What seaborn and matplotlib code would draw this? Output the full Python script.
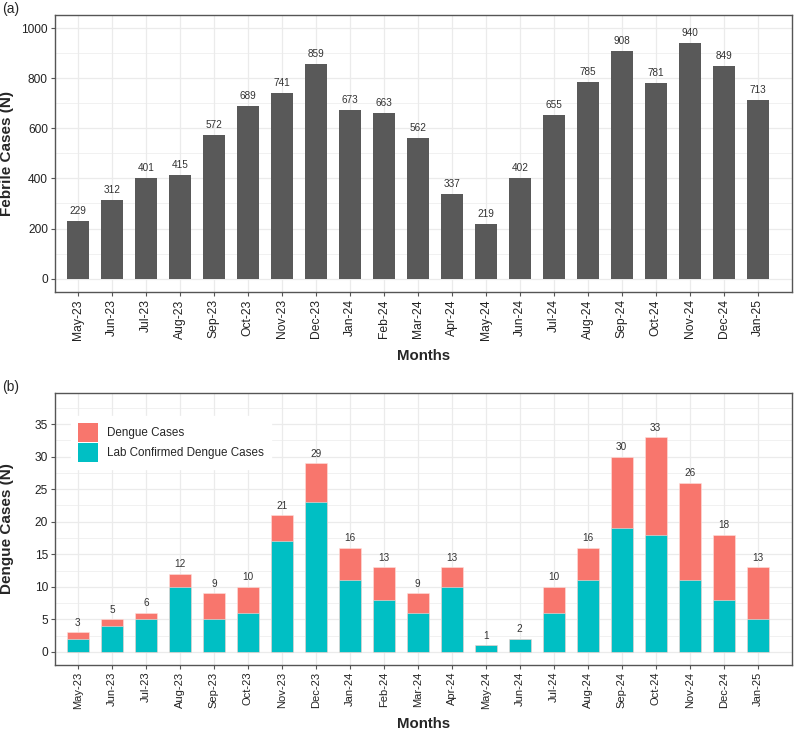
import numpy as np
import pandas as pd
import matplotlib
matplotlib.use("Agg")
import matplotlib.pyplot as plt
import seaborn as sns
from matplotlib.patches import Patch
from matplotlib.ticker import MultipleLocator

months = ["May-23", "Jun-23", "Jul-23", "Aug-23", "Sep-23", "Oct-23", "Nov-23",
          "Dec-23", "Jan-24", "Feb-24", "Mar-24", "Apr-24", "May-24", "Jun-24",
          "Jul-24", "Aug-24", "Sep-24", "Oct-24", "Nov-24", "Dec-24", "Jan-25"]
febrile = [229, 312, 401, 415, 572, 689, 741, 859, 673, 663, 562, 337, 219, 402,
           655, 785, 908, 781, 940, 849, 713]
dengue = [3, 5, 6, 12, 9, 10, 21, 29, 16, 13, 9, 13, 1, 2, 10, 16, 30, 33, 26, 18, 13]
lab_confirmed = [2, 4, 5, 10, 5, 6, 17, 23, 11, 8, 6, 10, 1, 2, 6, 11, 19, 18, 11, 8, 5]

df = pd.DataFrame({"Month": months, "Febrile": febrile,
                   "Dengue": dengue, "Lab": lab_confirmed})

sns.set_theme(style="white")
plt.rcParams["font.family"] = ["Liberation Sans", "DejaVu Sans"]

RED = "#F8766D"
TEAL = "#00BFC4"
GRID = "#EBEBEB"

fig = plt.figure(figsize=(7.94, 7.29), dpi=100)
ax1 = fig.add_axes([0.069, 0.599, 0.928, 0.380])
ax2 = fig.add_axes([0.069, 0.088, 0.928, 0.373])


def style_axes(ax, major, minor, xsize):
    ax.set_facecolor("white")
    ax.yaxis.set_major_locator(MultipleLocator(major))
    ax.yaxis.set_minor_locator(MultipleLocator(minor))
    ax.grid(True, which="major", color=GRID, linewidth=0.9, zorder=0)
    ax.grid(True, which="minor", axis="y", color=GRID, linewidth=0.5, zorder=0)
    ax.set_axisbelow(True)
    for s in ax.spines.values():
        s.set_color("#555555")
        s.set_linewidth(1.0)
    ax.tick_params(axis="both", which="major", length=3, width=0.8, pad=2,
                   color="#555555", labelsize=8.6, labelcolor="#222222",
                   bottom=True, left=True)
    ax.tick_params(axis="x", rotation=90, labelsize=xsize)
    ax.tick_params(which="minor", length=0)


# (a) febrile cases
sns.barplot(data=df, x="Month", y="Febrile", color="#595959", saturation=1,
            width=0.65, ax=ax1, zorder=2)
for p in ax1.patches:
    p.set_edgecolor("none")
for i, v in enumerate(febrile):
    ax1.text(i, v + 20, str(v), ha="center", va="bottom", fontsize=7.2, color="#333333")
style_axes(ax1, 200, 100, 8.7)
ax1.set_xlim(-0.68, 21.0)
ax1.set_ylim(-55, 1052)
ax1.set_xlabel("Months", fontsize=10.8, fontweight="bold")
ax1.set_ylabel("Febrile Cases (N)", fontsize=11, fontweight="bold")
ax1.xaxis.set_label_coords(0.5, -0.206)
ax1.yaxis.set_label_coords(-0.055, 0.5)

# (b) dengue cases, stacked
sns.barplot(data=df, x="Month", y="Dengue", color=RED, saturation=1,
            width=0.65, ax=ax2, zorder=2)
sns.barplot(data=df, x="Month", y="Lab", color=TEAL, saturation=1,
            width=0.65, ax=ax2, zorder=3)
for p in ax2.patches:
    p.set_edgecolor("#FDE0DD")
    p.set_linewidth(0.4)
for i, v in enumerate(dengue):
    ax2.text(i, v + 0.7, str(v), ha="center", va="bottom", fontsize=7.2, color="#333333")
style_axes(ax2, 5, 2.5, 8.0)
ax2.set_xlim(-0.68, 21.0)
ax2.set_ylim(-2.0, 39.8)
ax2.set_xlabel("Months", fontsize=10.8, fontweight="bold")
ax2.set_ylabel("Dengue Cases (N)", fontsize=11, fontweight="bold")
ax2.xaxis.set_label_coords(0.5, -0.19)
ax2.yaxis.set_label_coords(-0.055, 0.5)

handles = [Patch(facecolor=RED, edgecolor="none", label="Dengue Cases"),
           Patch(facecolor=TEAL, edgecolor="none", label="Lab Confirmed Dengue Cases")]
leg = ax2.legend(handles=handles, loc="upper left", bbox_to_anchor=(0.022, 0.915),
                 frameon=True, fontsize=8.4, handlelength=1.75, handleheight=2.1,
                 handletextpad=0.75, labelspacing=0.12, borderpad=0.6,
                 borderaxespad=0)
leg.get_frame().set_facecolor("white")
leg.get_frame().set_edgecolor("white")
leg.get_frame().set_alpha(1)
leg.get_frame().set_boxstyle("square", pad=0)
leg.set_zorder(5)

fig.text(0.003, 0.988, "(a)", fontsize=10, va="center", ha="left")
fig.text(0.003, 0.469, "(b)", fontsize=10, va="center", ha="left")

fig.savefig("out.png", dpi=100)
